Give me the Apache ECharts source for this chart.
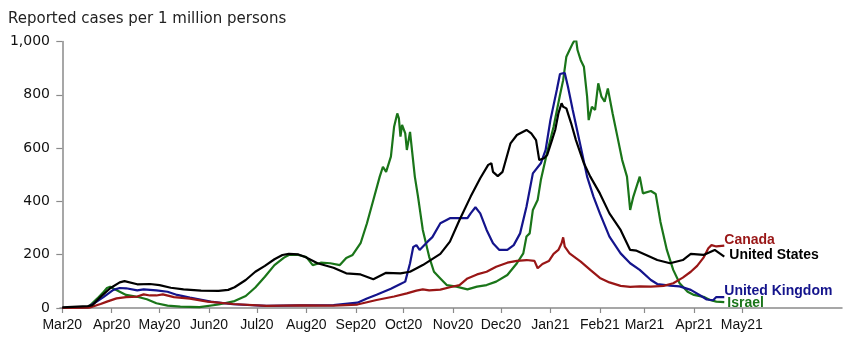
<!DOCTYPE html>
<html>
<head>
<meta charset="utf-8">
<script src="https://cdn.jsdelivr.net/npm/echarts@6/dist/echarts.min.js"></script>
<style>
  html, body { margin: 0; padding: 0; background: #fff; }
  #chart { width: 850px; height: 341px; }
</style>
</head>
<body>
<div id="chart"></div>
<script>
// Month ticks along the date axis
const monthStarts = ['2020-03-01','2020-04-01','2020-05-01','2020-06-01','2020-07-01','2020-08-01','2020-09-01',
  '2020-10-01','2020-11-01','2020-12-01','2021-01-01','2021-02-01','2021-03-01','2021-04-01','2021-05-01'];
const monthLabels = ['Mar20','Apr20','May20','Jun20','Jul20','Aug20','Sep20',
  'Oct20','Nov20','Dec20','Jan21','Feb21','Mar21','Apr21','May21'];
const yTicks = [0, 200, 400, 600, 800, 1000];

// Reported cases per 1 million persons (rolling, by date)
const unitedStates = [
  ['2020-03-01',2],['2020-03-17',7],['2020-03-20',11],['2020-03-25',42],['2020-03-31',74],['2020-04-06',96],
  ['2020-04-09',101],['2020-04-17',89],['2020-04-25',90],['2020-05-01',86],['2020-05-08',76],['2020-05-16',70],
  ['2020-05-27',65],['2020-06-07',64],['2020-06-13',68],['2020-06-17',78],['2020-06-24',105],['2020-06-30',136],
  ['2020-07-06',158],['2020-07-12',183],['2020-07-17',199],['2020-07-21',203],['2020-07-27',201],['2020-07-31',192],
  ['2020-08-08',168],['2020-08-18',151],['2020-08-26',130],['2020-09-04',126],['2020-09-12',108],['2020-09-20',132],
  ['2020-09-29',130],['2020-10-05',136],['2020-10-13',161],['2020-10-24',203],['2020-10-30',249],['2020-11-05',330],
  ['2020-11-12',418],['2020-11-18',487],['2020-11-23',537],['2020-11-25',543],['2020-11-26',511],['2020-11-29',495],
  ['2020-12-02',511],['2020-12-07',618],['2020-12-11',649],['2020-12-17',668],['2020-12-20',655],['2020-12-23',630],
  ['2020-12-25',555],['2020-12-28',562],['2020-12-30',574],['2021-01-02',630],['2021-01-04',668],['2021-01-06',730],
  ['2021-01-08',768],['2021-01-09',755],['2021-01-11',749],['2021-01-14',693],['2021-01-17',630],['2021-01-22',543],
  ['2021-01-26',493],['2021-02-01',430],['2021-02-07',355],['2021-02-14',293],['2021-02-20',218],['2021-02-24',215],
  ['2021-03-02',199],['2021-03-09',180],['2021-03-17',168],['2021-03-25',180],['2021-03-30',203],['2021-04-07',199],
  ['2021-04-14',218],['2021-04-20',193]
];

const israel = [
  ['2020-03-01',0],['2020-03-17',2],['2020-03-23',36],['2020-03-27',61],['2020-03-29',75],['2020-03-31',80],
  ['2020-04-03',70],['2020-04-06',61],['2020-04-10',49],['2020-04-17',42],['2020-04-23',33],['2020-04-29',18],
  ['2020-05-06',9],['2020-05-14',5],['2020-05-26',3],['2020-06-07',13],['2020-06-17',26],['2020-06-24',45],
  ['2020-06-30',77],['2020-07-06',117],['2020-07-12',161],['2020-07-18',189],['2020-07-21',199],['2020-07-27',199],
  ['2020-08-01',191],['2020-08-05',161],['2020-08-10',170],['2020-08-16',168],['2020-08-22',161],['2020-08-26',188],
  ['2020-08-30',199],['2020-09-04',243],['2020-09-08',318],['2020-09-12',405],['2020-09-16',493],['2020-09-18',530],
  ['2020-09-20',511],['2020-09-23',568],['2020-09-25',680],['2020-09-27',730],['2020-09-28',712],['2020-09-29',643],
  ['2020-09-30',687],['2020-10-02',655],['2020-10-03',593],['2020-10-05',661],['2020-10-06',655],['2020-10-08',493],
  ['2020-10-10',418],['2020-10-13',293],['2020-10-17',192],['2020-10-20',136],['2020-10-24',111],['2020-10-28',86],
  ['2020-11-03',80],['2020-11-10',70],['2020-11-16',80],['2020-11-22',86],['2020-11-28',99],['2020-12-05',124],
  ['2020-12-11',168],['2020-12-15',205],['2020-12-17',268],['2020-12-19',280],['2020-12-21',368],['2020-12-24',405],
  ['2020-12-26',480],['2020-12-30',585],['2021-01-03',680],['2021-01-07',799],['2021-01-09',855],['2021-01-11',943],
  ['2021-01-13',968],['2021-01-15',993],['2021-01-17',1012],['2021-01-18',968],['2021-01-20',930],['2021-01-22',905],
  ['2021-01-24',793],['2021-01-25',705],['2021-01-27',755],['2021-01-29',743],['2021-01-31',843],['2021-02-02',793],
  ['2021-02-04',774],['2021-02-06',824],['2021-02-09',730],['2021-02-12',643],['2021-02-15',555],['2021-02-18',493],
  ['2021-02-20',368],['2021-02-22',418],['2021-02-26',493],['2021-02-28',430],['2021-03-05',439],['2021-03-08',428],
  ['2021-03-11',323],['2021-03-15',218],['2021-03-19',143],['2021-03-23',93],['2021-03-28',61],['2021-04-01',49],
  ['2021-04-07',42],['2021-04-11',30],['2021-04-15',24],['2021-04-20',22]
];

const unitedKingdom = [
  ['2020-03-01',0],['2020-03-17',3],['2020-03-20',14],['2020-03-27',42],['2020-04-02',68],['2020-04-06',75],
  ['2020-04-10',74],['2020-04-17',66],['2020-04-21',70],['2020-04-29',66],['2020-05-06',61],['2020-05-12',49],
  ['2020-05-20',39],['2020-06-02',24],['2020-06-16',14],['2020-07-07',8],['2020-07-28',10],['2020-08-18',11],
  ['2020-09-02',20],['2020-09-08',36],['2020-09-14',50],['2020-09-23',72],['2020-09-29',90],['2020-10-02',99],
  ['2020-10-05',168],['2020-10-07',229],['2020-10-09',236],['2020-10-11',218],['2020-10-16',249],['2020-10-19',266],
  ['2020-10-24',318],['2020-10-30',337],['2020-11-05',337],['2020-11-10',337],['2020-11-12',355],['2020-11-15',378],
  ['2020-11-18',355],['2020-11-22',293],['2020-11-26',243],['2020-11-30',218],['2020-12-05',218],['2020-12-09',236],
  ['2020-12-13',280],['2020-12-17',380],['2020-12-21',505],['2020-12-26',543],['2020-12-29',593],['2021-01-01',705],
  ['2021-01-05',818],['2021-01-07',878],['2021-01-10',882],['2021-01-12',830],['2021-01-15',743],['2021-01-20',605],
  ['2021-01-24',493],['2021-01-28',418],['2021-02-01',355],['2021-02-07',268],['2021-02-14',205],['2021-02-20',168],
  ['2021-02-26',143],['2021-03-05',105],['2021-03-09',90],['2021-03-17',84],['2021-03-23',81],['2021-03-30',68],
  ['2021-04-05',47],['2021-04-09',32],['2021-04-13',29],['2021-04-15',41],['2021-04-20',41]
];

const canada = [
  ['2020-03-01',0],['2020-03-18',1],['2020-03-23',11],['2020-03-25',15],['2020-03-29',24],['2020-04-04',36],
  ['2020-04-10',41],['2020-04-17',43],['2020-04-21',51],['2020-04-25',47],['2020-04-29',47],['2020-05-03',51],
  ['2020-05-10',41],['2020-05-20',35],['2020-05-31',24],['2020-06-16',15],['2020-07-07',8],['2020-07-28',10],
  ['2020-08-18',9],['2020-09-02',13],['2020-09-14',30],['2020-09-25',43],['2020-10-03',55],['2020-10-09',65],
  ['2020-10-13',70],['2020-10-17',66],['2020-10-24',69],['2020-10-30',78],['2020-11-05',86],['2020-11-10',111],
  ['2020-11-16',126],['2020-11-22',136],['2020-11-28',155],['2020-12-05',170],['2020-12-11',177],['2020-12-17',180],
  ['2020-12-22',177],['2020-12-24',149],['2020-12-27',165],['2020-12-31',176],['2021-01-03',203],['2021-01-06',218],
  ['2021-01-08',243],['2021-01-09',265],['2021-01-10',230],['2021-01-13',205],['2021-01-20',174],['2021-01-26',143],
  ['2021-02-01',113],['2021-02-07',96],['2021-02-14',83],['2021-02-20',79],['2021-02-26',81],['2021-03-05',80],
  ['2021-03-13',83],['2021-03-19',93],['2021-03-25',114],['2021-03-30',136],['2021-04-03',158],['2021-04-07',189],
  ['2021-04-10',224],['2021-04-12',236],['2021-04-15',231],['2021-04-20',234]
];

// Dates become day offsets from 1 March 2020 on a linear axis
const ORIGIN = Date.UTC(2020, 2, 1);
function dayOf(s) {
  const [y, m, d] = s.split('-').map(Number);
  return (Date.UTC(y, m - 1, d) - ORIGIN) / 86400000;
}
const toXY = rows => rows.map(([d, v]) => [dayOf(d), v]);
const tickDays = monthStarts.map(dayOf);
const labelByDay = {};
tickDays.forEach((d, i) => { labelByDay[d] = monthLabels[i]; });

const AXIS_GRAY = '#8a8a8a';
const LABEL_FONT = "'Liberation Sans', Arial, sans-serif";

function lineSeries(name, rows, color, labelOffset) {
  return {
    name: name,
    type: 'line',
    data: toXY(rows),
    showSymbol: false,
    symbol: 'none',
    smooth: false,
    lineStyle: { color: color, width: 2.2 },
    itemStyle: { color: color },
    emphasis: { disabled: true },
    endLabel: {
      show: true,
      formatter: name,
      color: color,
      fontFamily: LABEL_FONT,
      fontWeight: 'bold',
      fontSize: 14,
      distance: 0,
      offset: labelOffset
    }
  };
}

const chart = echarts.init(document.getElementById('chart'), null, { renderer: 'canvas' });
chart.setOption({
  animation: false,
  backgroundColor: '#ffffff',
  title: {
    text: 'Reported cases per 1 million persons',
    left: 3,
    top: 7,
    textStyle: {
      fontFamily: "'DejaVu Sans', sans-serif",
      fontSize: 15,
      fontWeight: 'normal',
      color: '#222'
    }
  },
  grid: { left: 60, right: 8, top: 41.5, bottom: 33, containLabel: false },
  xAxis: {
    type: 'value',
    min: -1.44,
    max: 488.8,
    axisLine: { show: true, onZero: true, lineStyle: { color: AXIS_GRAY, width: 1.5 } },
    axisTick: { show: true, length: 5, customValues: tickDays, lineStyle: { color: AXIS_GRAY, width: 1.2 } },
    axisLabel: {
      customValues: tickDays,
      formatter: v => labelByDay[Math.round(v)] || '',
      fontFamily: LABEL_FONT,
      fontSize: 14,
      color: '#111',
      margin: 10
    },
    splitLine: { show: false }
  },
  yAxis: {
    type: 'value',
    min: 0,
    max: 1000,
    interval: 200,
    axisLine: { show: true, lineStyle: { color: AXIS_GRAY, width: 1.5 } },
    axisTick: { show: true, length: 6, lineStyle: { color: AXIS_GRAY, width: 1.2 } },
    axisLabel: {
      formatter: v => yTicks.includes(v) ? v.toLocaleString('en-US') : '',
      fontFamily: "'DejaVu Sans', sans-serif",
      fontSize: 14,
      color: '#111',
      margin: 10
    },
    splitLine: { show: false }
  },
  series: [
    lineSeries('Israel', israel, '#1a7519', [3, 1]),
    lineSeries('United Kingdom', unitedKingdom, '#14148c', [0, -6]),
    lineSeries('Canada', canada, '#991616', [0, -5]),
    lineSeries('United States', unitedStates, '#000000', [5, -1.5])
  ]
});
</script>
</body>
</html>
